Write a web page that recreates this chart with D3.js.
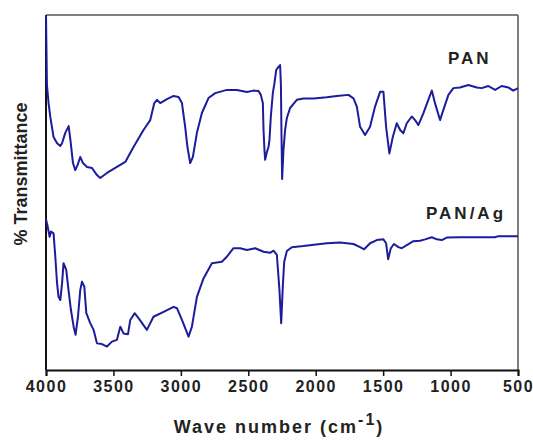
<html>
<head>
<script src="https://d3js.org/d3.v7.min.js"></script>
<style>
body { margin: 0; background: #fff; font-family: 'Liberation Sans', Arial, sans-serif; }
</style>
</head>
<body>
<div id="chart"></div>
<script>
// ---- data (wavenumber cm-1, % transmittance, arbitrary offset) ----
var panWave = [4000,3993,3981,3968,3944,3918,3894,3881,3857,3832,3819,3800,3783,3766,3746,3726,3696,3659,3622,3598,
  3548,3474,3412,3351,3277,3227,3197,3177,3153,3103,3054,3017,2992,2968,2951,2931,2911,2881,2844,2795,
  2745,2659,2585,2510,2462,2424,2407,2392,2387,2380,2375,2362,2350,2343,2333,2318,2306,2293,2276,2264,
  2258,2254,2249,2239,2227,2214,2190,2140,2091,2017,1918,1843,1757,1720,1695,1671,1634,1597,1560,1522,
  1498,1478,1454,1428,1399,1374,1350,1325,1288,1263,1239,1202,1165,1139,1115,1078,1054,1016,979,930,
  868,806,769,720,670,621,572,535,500];
var panT = [100,80.3,75.2,71.3,65.6,63.9,63.1,63.9,66.8,68.7,64.8,58.3,56.3,57.7,60.0,58.3,57.2,56.9,54.9,54.1,
  55.5,57.2,58.6,62.8,67.6,70.4,75.2,76.1,75.2,76.3,77.2,76.9,75.2,68.5,62.8,58.3,60.0,66.8,72.4,76.6,
  78.0,78.9,78.9,78.3,78.7,78.6,77.5,75.2,67.6,62.0,59.2,61.4,62.8,64.8,71.3,78.0,80.8,84.5,85.4,85.9,
  80.3,66.8,53.8,62.0,67.6,71.0,73.8,76.1,76.5,76.5,76.8,77.2,77.5,76.5,74.2,68.5,66.2,68.5,74.2,78.4,
  78.4,68.5,61.0,65.7,69.5,67.6,66.7,69.5,71.4,70.4,69.0,72.3,76.1,78.7,75.1,70.4,73.2,77.5,79.4,79.6,
  80.3,79.6,79.4,80.0,78.9,80.0,79.6,78.7,79.4];

var agWave = [4000,3988,3973,3963,3944,3931,3918,3907,3894,3881,3870,3850,3833,3815,3795,3781,3763,3746,3733,3716,
  3701,3672,3647,3622,3585,3548,3511,3474,3449,3425,3392,3375,3343,3314,3252,3203,3128,3054,3029,2992,
  2943,2918,2881,2832,2770,2696,2659,2610,2560,2510,2449,2387,2338,2313,2288,2269,2256,2244,2234,2214,
  2177,2091,1918,1819,1720,1671,1641,1597,1547,1498,1478,1463,1443,1419,1387,1362,1325,1276,1226,1189,
  1139,1102,1065,1028,930,671,646,500];
var agT = [42.5,40.5,37.5,39.0,38.5,31.9,24.4,20.6,19.7,24.4,30.1,28.2,22.5,16.9,12.2,9.9,15.0,22.5,24.9,23.5,
  16.0,13.2,11.3,7.5,7.3,6.6,8.0,8.5,12.2,10.3,10.1,14.1,16.0,14.6,11.3,15.0,16.4,17.8,17.4,14.1,
  9.4,12.2,20.6,25.8,30.1,30.5,31.9,34.3,34.3,33.8,34.3,33.3,33.0,33.6,32.4,22.5,13.2,23.5,30.4,33.5,
  34.6,34.9,35.7,35.9,35.5,34.6,34.0,35.7,36.6,36.8,35.7,31.2,34.3,35.5,34.6,34.3,35.2,36.3,36.4,36.8,
  37.4,36.8,36.6,37.3,37.4,37.4,37.7,37.7];

var xTicks = [4000,3500,3000,2500,2000,1500,1000,500];
var seriesNames = ["PAN", "PAN/Ag"];

var width = 533, height = 440;
var mLeft = 46, mRight = 518, mTop = 15, mBottom = 370;

var svg = d3.select("#chart").append("svg").attr("width", width).attr("height", height);

var xScale = d3.scaleLinear().domain([4000, 500]).range([mLeft, mRight]);
var yScale = d3.scaleLinear().domain([0, 100]).range([mBottom, mTop]);

// frame: top/right grey, left/bottom black
svg.append("line").attr("x1", mLeft).attr("x2", mRight).attr("y1", mTop).attr("y2", mTop)
  .attr("stroke", "#555").attr("stroke-width", 1.5);
svg.append("line").attr("x1", mRight).attr("x2", mRight).attr("y1", mTop).attr("y2", mBottom)
  .attr("stroke", "#555").attr("stroke-width", 1.5);
svg.append("line").attr("x1", mLeft).attr("x2", mLeft).attr("y1", mTop).attr("y2", mBottom)
  .attr("stroke", "#111").attr("stroke-width", 2);

// x axis
var xAxis = d3.axisBottom(xScale).tickValues(xTicks).tickSize(6).tickPadding(5).tickFormat(d3.format("d"));
var gx = svg.append("g").attr("transform", "translate(0," + mBottom + ")").call(xAxis);
gx.select(".domain").attr("stroke", "#111").attr("stroke-width", 2);
gx.selectAll(".tick line").attr("stroke", "#111").attr("stroke-width", 1.5);
gx.selectAll(".tick text")
  .style("font-family", "'Liberation Sans', Arial, sans-serif")
  .style("font-size", "16px").style("font-weight", "bold")
  .style("letter-spacing", "1.5px").attr("fill", "#222");

// spectra
var line = d3.line().x(d => xScale(d[0])).y(d => yScale(d[1]));
var series = [d3.zip(panWave, panT), d3.zip(agWave, agT)];
svg.selectAll(".spec").data(series).enter().append("path")
  .attr("class", "spec")
  .attr("d", line)
  .attr("fill", "none")
  .attr("stroke", "#1c1c9c")
  .attr("stroke-width", 2)
  .attr("stroke-linejoin", "round");

// series labels
svg.append("text").attr("x", 448).attr("y", 64)
  .style("font-size", "17px").style("font-weight", "bold").style("letter-spacing", "3px")
  .attr("fill", "#222").text(seriesNames[0]);
svg.append("text").attr("x", 426).attr("y", 219)
  .style("font-size", "17px").style("font-weight", "bold").style("letter-spacing", "3px")
  .attr("fill", "#222").text(seriesNames[1]);

// axis titles
var xt = svg.append("text").attr("x", 279).attr("y", 433).attr("text-anchor", "middle")
  .style("font-size", "18px").style("font-weight", "bold").style("letter-spacing", "2px").attr("fill", "#222");
xt.append("tspan").text("Wave number (cm");
xt.append("tspan").attr("dy", -8).style("font-size", "16px").text("-1");
xt.append("tspan").attr("dy", 8).text(")");

svg.append("text").attr("transform", "translate(27,174) rotate(-90)").attr("text-anchor", "middle")
  .style("font-size", "18px").style("font-weight", "bold").attr("fill", "#222")
  .text("% Transmittance");
</script>
</body>
</html>
